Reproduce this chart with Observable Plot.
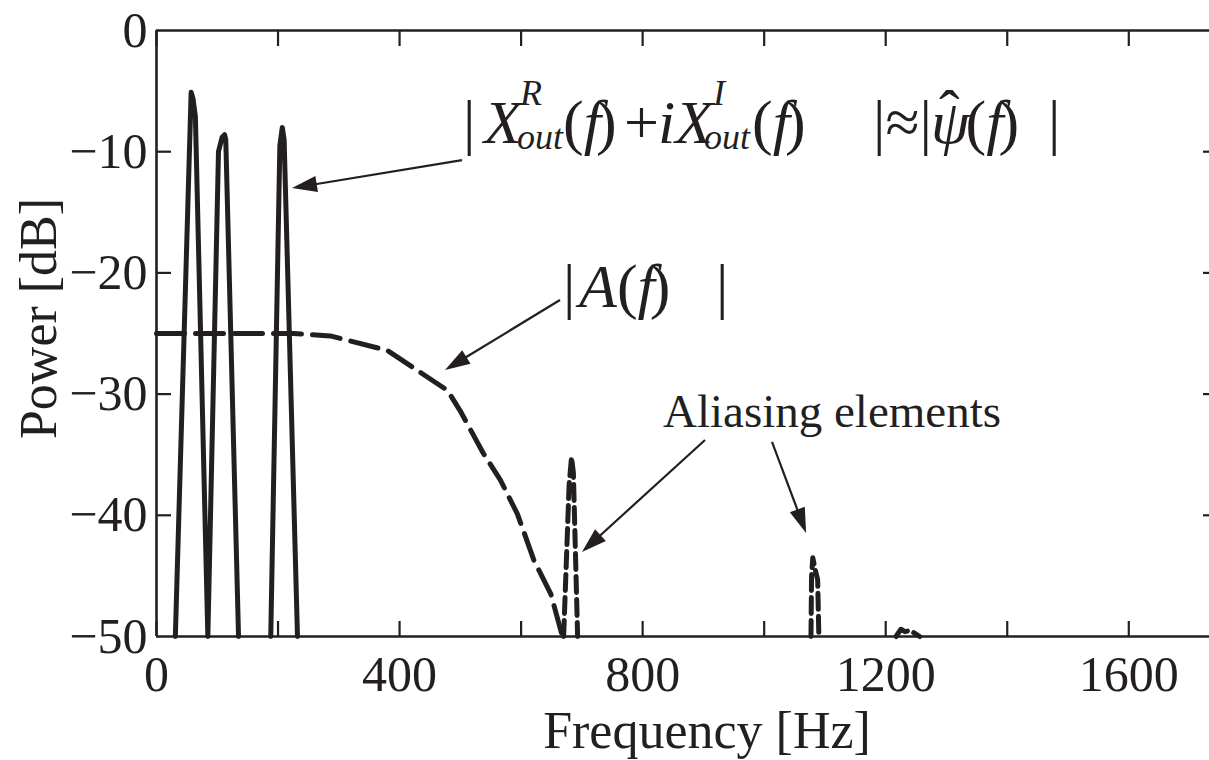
<!DOCTYPE html>
<html>
<head>
<meta charset="utf-8">
<script src="https://cdn.jsdelivr.net/npm/d3@7"></script>
<script src="https://cdn.jsdelivr.net/npm/@observablehq/plot@0.6"></script>
<style>
  html, body { margin: 0; padding: 0; background: #fff; overflow: hidden; }
  #chart svg { display: block; }
</style>
</head>
<body>
<div id="chart"></div>
<script>
// ---------- data ----------
const xTickValues = [0, 200, 400, 600, 800, 1000, 1200, 1400, 1600];
const xLabelValues = [0, 400, 800, 1200, 1600];
const yLabelValues = [0, -10, -20, -30, -40, -50];
const yInnerTicks = [-10, -20, -30, -40];

// |X_out^R + i X_out^I| ≈ |psi_hat| main lobes (solid)
const lobeHz = [31, 57, 60, 64, 84.5, 102, 108, 112, 114, 135, null, 188, 203, 207, 210, 232];
const lobeDb = [-50, -5.1, -5.6, -7.1, -50, -10.0, -8.8, -8.6, -9.0, -50, null, -50, -9.5, -8.0, -9.0, -50];

// |A(f)| anti-aliasing response (dashed)
const aHz = [0, 225, 286, 380, 479, 500, 538, 566, 594, 621, 649, 668];
const aDb = [-25, -25, -25.2, -26.4, -29.7, -31.4, -34.9, -37.1, -39.9, -43.7, -46.5, -50];

// aliasing elements (dashed)
const aliasHz = [670, 679, 683, 686, 693, null, 1077, 1078, 1080, 1084, 1088, 1090, null, 1217, 1225, 1232, 1240, 1256];
const aliasDb = [-50, -37.5, -35.2, -36.5, -50, null, -50, -45, -43.5, -44.5, -45.3, -50, null, -50, -49.4, -49.6, -49.5, -50];

// annotation arrows (data coordinates)
const arrowFromHz = [503.6, 664.8, 903.5, 1013.7];
const arrowFromDb = [-10.73, -22.28, -33.83, -33.99];
const arrowToHz = [223.8, 475.6, 701.0, 1069.8];
const arrowToDb = [-13.04, -28.05, -43.07, -41.5];

// annotation anchors (data coordinates)
const formulaAnchor = {hz: 508.5, db: -9.32};
const aLabelAnchor = {hz: 673.1, db: -22.85};
const aliasLabel = {text: "Aliasing elements", hz: 1112.5, db: -32.76};

// ---------- build ----------
const INK = "#231f20";
const SERIF = "'Liberation Serif','Times New Roman',serif";
const toRows = (xs, ys) => xs.map((v, i) => ({hz: v, db: ys[i]}));
const lobes = toRows(lobeHz, lobeDb);
const aCurve = toRows(aHz, aDb);
const alias = toRows(aliasHz, aliasDb);
const arrows = arrowFromHz.map((v, i) => ({x1: v, y1: arrowFromDb[i], x2: arrowToHz[i], y2: arrowToDb[i]}));
const minus = d => d < 0 ? "\u2212" + (-d) : String(d);

// text pieces: [segments [text, italic, dxAdjust], dx, dy, size]
const IT = true;
const formulaPieces = [
  [[["|"]], -2, 0, 62],
  [[["X", IT]], 19, 0, 62],
  [[["R", IT]], 55, -38, 36],
  [[["out", IT]], 52, 6, 36],
  [[["("], ["f", IT], [")", false, -5]], 98, 0, 62],
  [[["+"]], 159, 0, 62],
  [[["iX", IT]], 193, 0, 62],
  [[["I", IT]], 248, -38, 36],
  [[["out", IT]], 239, 6, 36],
  [[["("], ["f", IT], [")", false, -5]], 287, 0, 62],
  [[["|\u2248|"]], 408, 0, 62],
  [[["\u03C8", IT], ["(", false, -4], ["f", IT], [")", false, -5]], 466, 0, 62],
  [[["\u02C6"]], 474, -10, 62],
  [[["|"]], 583, 0, 62]
];
const aPieces = [
  [[["|"]], -2, 0, 62],
  [[["A", IT], ["("], ["f", IT], [")", false, -5]], 14, 0, 62],
  [[["|"]], 151, 0, 62]
];

function annotate(index, scales) {
  const {x, y} = scales;
  const g = d3.create("svg:g").attr("fill", INK).attr("font-family", SERIF).attr("text-anchor", "start");
  for (const a of arrows) {
    const x0 = x(a.x1), y0 = y(a.y1), x1 = x(a.x2), y1 = y(a.y2);
    const dx = x1 - x0, dy = y1 - y0, len = Math.hypot(dx, dy);
    const ux = dx / len, uy = dy / len, L = 25, W = 8;
    const bx = x1 - ux * L, by = y1 - uy * L;
    g.append("line").attr("x1", x0).attr("y1", y0).attr("x2", bx + ux * 3).attr("y2", by + uy * 3)
      .attr("stroke", INK).attr("stroke-width", 2.2);
    g.append("path").attr("d", `M${x1},${y1}L${bx - uy * W},${by + ux * W}L${bx + uy * W},${by - ux * W}Z`);
  }
  const drawPieces = (pieces, anchor) => {
    const ax = x(anchor.hz), ay = y(anchor.db);
    for (const [segs, dx, dy, size] of pieces) {
      const t = g.append("text").attr("x", ax + dx).attr("y", ay + dy).attr("font-size", size)
        .attr("text-anchor", "start");
      for (const [s, it, adj] of segs) {
        const sp = t.append("tspan").attr("font-style", it ? "italic" : "normal").text(s);
        if (adj) sp.attr("dx", adj);
      }
    }
  };
  drawPieces(formulaPieces, formulaAnchor);
  drawPieces(aPieces, aLabelAnchor);
  g.append("text").attr("x", x(aliasLabel.hz)).attr("y", y(aliasLabel.db))
    .attr("font-size", 47).attr("text-anchor", "middle").text(aliasLabel.text);
  return g.node();
}

const chart = Plot.plot({
  width: 1209,
  height: 760,
  marginLeft: 156,
  marginRight: -8,
  marginTop: 30,
  marginBottom: 124,
  x: {domain: [0, 1746]},
  y: {domain: [-50, 0]},
  style: {fontFamily: SERIF, background: "white", color: INK},
  marks: [
    // frame
    Plot.ruleY([-50, 0], {stroke: INK, strokeWidth: 2.6}),
    Plot.ruleX([0], {stroke: INK, strokeWidth: 2.6}),
    // inward ticks
    Plot.axisX({anchor: "bottom", ticks: xTickValues, tickSize: -15, tickFormat: () => "", label: null, strokeWidth: 2.2}),
    Plot.axisX({anchor: "top", ticks: xTickValues, tickSize: -15, tickFormat: () => "", label: null, strokeWidth: 2.2}),
    Plot.axisY({anchor: "left", ticks: yInnerTicks, tickSize: -15, tickFormat: () => "", label: null, strokeWidth: 2.2}),
    Plot.axisY({anchor: "right", ticks: yInnerTicks, tickSize: -15, tickFormat: () => "", label: null, strokeWidth: 2.2}),
    // tick labels
    Plot.axisX({anchor: "bottom", ticks: xLabelValues, tickSize: 0, tickPadding: 19, tickFormat: minus, fontSize: 50, label: null}),
    Plot.axisY({anchor: "left", ticks: yLabelValues, tickSize: 0, tickPadding: 9, tickFormat: minus, fontSize: 50, label: null}),
    // axis titles
    Plot.text(["Frequency [Hz]"], {frameAnchor: "bottom", textAnchor: "middle", dx: 20, dy: 111, lineAnchor: "bottom", fontSize: 52, fill: INK}),
    Plot.text(["Power [dB]"], {frameAnchor: "left", textAnchor: "middle", dx: -117, dy: -15, rotate: -90, lineAnchor: "middle", fontSize: 52, fill: INK}),
    // curves
    Plot.line(aCurve, {x: "hz", y: "db", stroke: INK, strokeWidth: 5, strokeDasharray: "28,11"}),
    Plot.line(lobes, {x: "hz", y: "db", stroke: INK, strokeWidth: 5, strokeLinejoin: "round"}),
    Plot.line(alias, {x: "hz", y: "db", stroke: INK, strokeWidth: 5, strokeDasharray: "16,7"}),
    // annotations
    annotate
  ]
});
document.getElementById("chart").appendChild(chart);
</script>
</body>
</html>
